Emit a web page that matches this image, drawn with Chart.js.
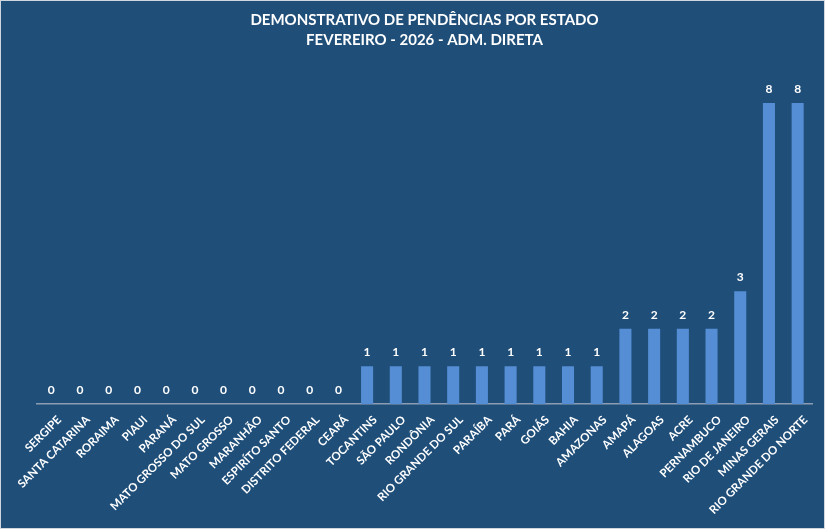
<!DOCTYPE html>
<html>
<head>
<meta charset="utf-8">
<script src="https://cdn.jsdelivr.net/npm/chart.js@4"></script>
<style>
  html, body { margin: 0; padding: 0; background: #1f4e79; }
  .frame { width: 823px; height: 527px; border: 1px solid #d0d6de; background: #1f4e79; }
</style>
</head>
<body>
<div class="frame"><canvas id="chart" width="823" height="527"></canvas></div>
<script>
// estados e pendências
const estados = [
    'SERGIPE', 'SANTA CATARINA', 'RORAIMA', 'PIAUI', 'PARANÁ', 'MATO GROSSO DO SUL',
    'MATO GROSSO', 'MARANHÃO', 'ESPIRÍTO SANTO', 'DISTRITO FEDERAL', 'CEARÁ',
    'TOCANTINS', 'SÃO PAULO', 'RONDÔNIA', 'RIO GRANDE DO SUL', 'PARAÍBA', 'PARÁ',
    'GOIÁS', 'BAHIA', 'AMAZONAS', 'AMAPÁ', 'ALAGOAS', 'ACRE', 'PERNAMBUCO',
    'RIO DE JANEIRO', 'MINAS GERAIS', 'RIO GRANDE DO NORTE'
];
const pendencias = [0, 0, 0, 0, 0, 0, 0, 0, 0, 0, 0, 1, 1, 1, 1, 1, 1, 1, 1, 1, 2, 2, 2, 2, 3, 8, 8];
const titulo = ['DEMONSTRATIVO DE PENDÊNCIAS POR ESTADO', 'FEVEREIRO - 2026 - ADM. DIRETA'];

const fonte = 'Lato, "Open Sans", sans-serif';

// rótulos de valor acima das barras
const valueLabels = {
    id: 'valueLabels',
    afterDatasetsDraw(chart) {
        const ctx = chart.ctx;
        const meta = chart.getDatasetMeta(0);
        ctx.save();
        ctx.fillStyle = '#ffffff';
        ctx.font = 'bold 12px ' + fonte;
        ctx.textAlign = 'center';
        ctx.textBaseline = 'bottom';
        meta.data.forEach((bar, i) => {
            ctx.fillText(String(pendencias[i]), bar.x, bar.y - 8);
        });
        ctx.restore();
    }
};

new Chart(document.getElementById('chart'), {
    type: 'bar',
    data: {
        labels: estados,
        datasets: [{
            data: pendencias,
            backgroundColor: '#558ed5',
            barPercentage: 0.42,
            categoryPercentage: 1.0
        }]
    },
    options: {
        responsive: false,
        animation: false,
        layout: { padding: { left: 36, right: 12, top: 0, bottom: 2 } },
        plugins: {
            legend: { display: false },
            tooltip: { enabled: false },
            title: {
                display: true,
                text: titulo,
                color: '#ffffff',
                font: { family: fonte, size: 15, weight: 'bold', lineHeight: 1.35 },
                padding: { top: 9, bottom: 15 }
            }
        },
        scales: {
            y: {
                display: false,
                min: 0,
                max: 9
            },
            x: {
                grid: { display: false, drawTicks: false },
                border: { color: '#8c9db3', width: 1.5 },
                afterCalculateLabelRotation: (scale) => { scale.labelRotation = 45; },
                ticks: {
                    color: '#ffffff',
                    font: { family: fonte, size: 11.5, weight: 'bold' },
                    minRotation: 45,
                    maxRotation: 45,
                    autoSkip: false,
                    labelOffset: 8,
                    padding: 9
                }
            }
        }
    },
    plugins: [valueLabels]
});
</script>
</body>
</html>
